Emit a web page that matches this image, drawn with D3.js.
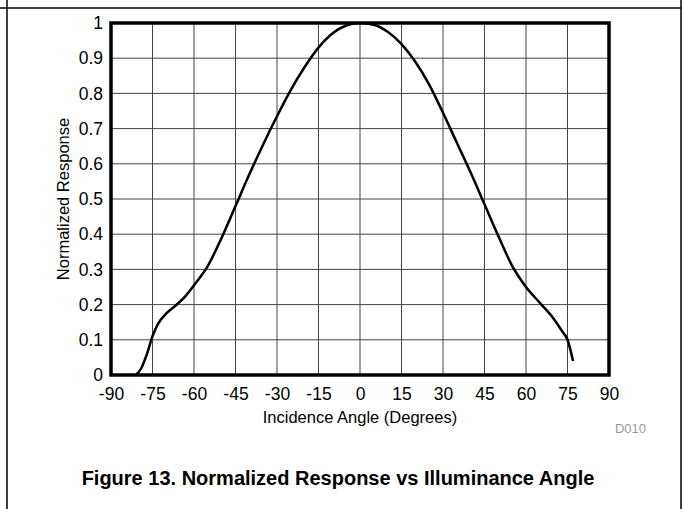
<!DOCTYPE html>
<html>
<head>
<meta charset="utf-8">
<script src="https://cdn.jsdelivr.net/npm/d3@7"></script>
<style>
  body { margin: 0; background: #fff; }
  text { font-family: "Liberation Sans", Arial, sans-serif; }
</style>
</head>
<body>
<div id="vis"></div>
<script>
// curve: angle (degrees) / normalized response
var angles = [-81, -79, -77, -75, -73, -70, -67, -63, -60, -55, -50, -45, -40, -35, -30, -25, -20, -15, -10, -5, 0,
              5, 10, 15, 20, 25, 30, 35, 40, 45, 50, 55, 60, 65, 70, 73, 75, 77];
var response = [0, 0.02, 0.06, 0.11, 0.145, 0.175, 0.195, 0.225, 0.255, 0.31, 0.39, 0.48, 0.57, 0.655, 0.735, 0.81, 0.875, 0.93, 0.97, 0.993, 1.0,
                0.995, 0.975, 0.94, 0.89, 0.825, 0.745, 0.66, 0.575, 0.485, 0.395, 0.31, 0.25, 0.205, 0.16, 0.125, 0.1, 0.04];
var xTicks = [-90, -75, -60, -45, -30, -15, 0, 15, 30, 45, 60, 75, 90];
var yTicks = [0, 0.1, 0.2, 0.3, 0.4, 0.5, 0.6, 0.7, 0.8, 0.9, 1];

var width = 685, height = 509;
var margin = { left: 111, top: 23, right: 76, bottom: 134 };
var drawWidth = width - margin.left - margin.right,
    drawHeight = height - margin.top - margin.bottom;

var svg = d3.select('#vis').append('svg')
            .attr('width', width)
            .attr('height', height);

// page frame
svg.append('line').attr('x1', 0).attr('x2', 681).attr('y1', 8).attr('y2', 8)
   .style('stroke', '#000').style('stroke-width', 1.5);
svg.append('line').attr('x1', 7).attr('x2', 7).attr('y1', 0).attr('y2', height)
   .style('stroke', '#000').style('stroke-width', 1.5);
svg.append('line').attr('x1', 681).attr('x2', 681).attr('y1', 0).attr('y2', height)
   .style('stroke', '#000').style('stroke-width', 1.5);

var xScale = d3.scaleLinear().domain([-90, 90]).range([0, drawWidth]);
var yScale = d3.scaleLinear().domain([0, 1]).range([drawHeight, 0]);

var g = svg.append('g')
           .attr('transform', `translate(${margin.left}, ${margin.top})`);

// grid
g.selectAll('.vgrid').data(xTicks).enter().append('line')
 .attr('class', 'vgrid')
 .attr('x1', (d) => xScale(d)).attr('x2', (d) => xScale(d))
 .attr('y1', 0).attr('y2', drawHeight)
 .style('stroke', '#444').style('stroke-width', 1);
g.selectAll('.hgrid').data(yTicks).enter().append('line')
 .attr('class', 'hgrid')
 .attr('y1', (d) => yScale(d)).attr('y2', (d) => yScale(d))
 .attr('x1', 0).attr('x2', drawWidth)
 .style('stroke', '#444').style('stroke-width', 1);

// tick labels
var xAxis = d3.axisBottom(xScale).tickValues(xTicks).tickSize(0).tickPadding(13).tickFormat((d) => d);
var yAxis = d3.axisLeft(yScale).tickValues(yTicks).tickSize(0).tickPadding(8).tickFormat((d) => d);
var xAxisG = g.append('g').attr('transform', `translate(0, ${drawHeight})`).call(xAxis);
var yAxisG = g.append('g').call(yAxis);
[xAxisG, yAxisG].forEach((a) => {
    a.select('.domain').remove();
    a.selectAll('text').style('font-family', '"Liberation Sans", Arial, sans-serif')
     .style('font-size', '17.5px').style('fill', '#000');
});

// curve
var data = angles.map((a, i) => ({ angle: a, value: response[i] }));
var line = d3.line()
             .x((d) => xScale(d.angle))
             .y((d) => yScale(d.value))
             .curve(d3.curveMonotoneX);
g.append('path').datum(data)
 .attr('d', line)
 .style('fill', 'none')
 .style('stroke', '#000')
 .style('stroke-width', 2.5);

// plot border
g.append('rect')
 .attr('x', 0).attr('y', 0)
 .attr('width', drawWidth).attr('height', drawHeight)
 .style('fill', 'none').style('stroke', '#000').style('stroke-width', 3.5);

// titles
svg.append('text')
   .attr('x', margin.left + drawWidth / 2).attr('y', 423)
   .style('text-anchor', 'middle').style('font-size', '16.5px')
   .text('Incidence Angle (Degrees)');
svg.append('text')
   .attr('transform', `translate(69, ${margin.top + drawHeight / 2}) rotate(-90)`)
   .style('text-anchor', 'middle').style('font-size', '16.5px')
   .text('Normalized Response');
svg.append('text')
   .attr('x', 646).attr('y', 433)
   .style('text-anchor', 'end').style('font-size', '13px').style('fill', '#999')
   .text('D010');
svg.append('text')
   .attr('x', 338).attr('y', 485)
   .style('text-anchor', 'middle').style('font-size', '20px').style('font-weight', 'bold')
   .text('Figure 13. Normalized Response vs Illuminance Angle');
</script>
</body>
</html>
